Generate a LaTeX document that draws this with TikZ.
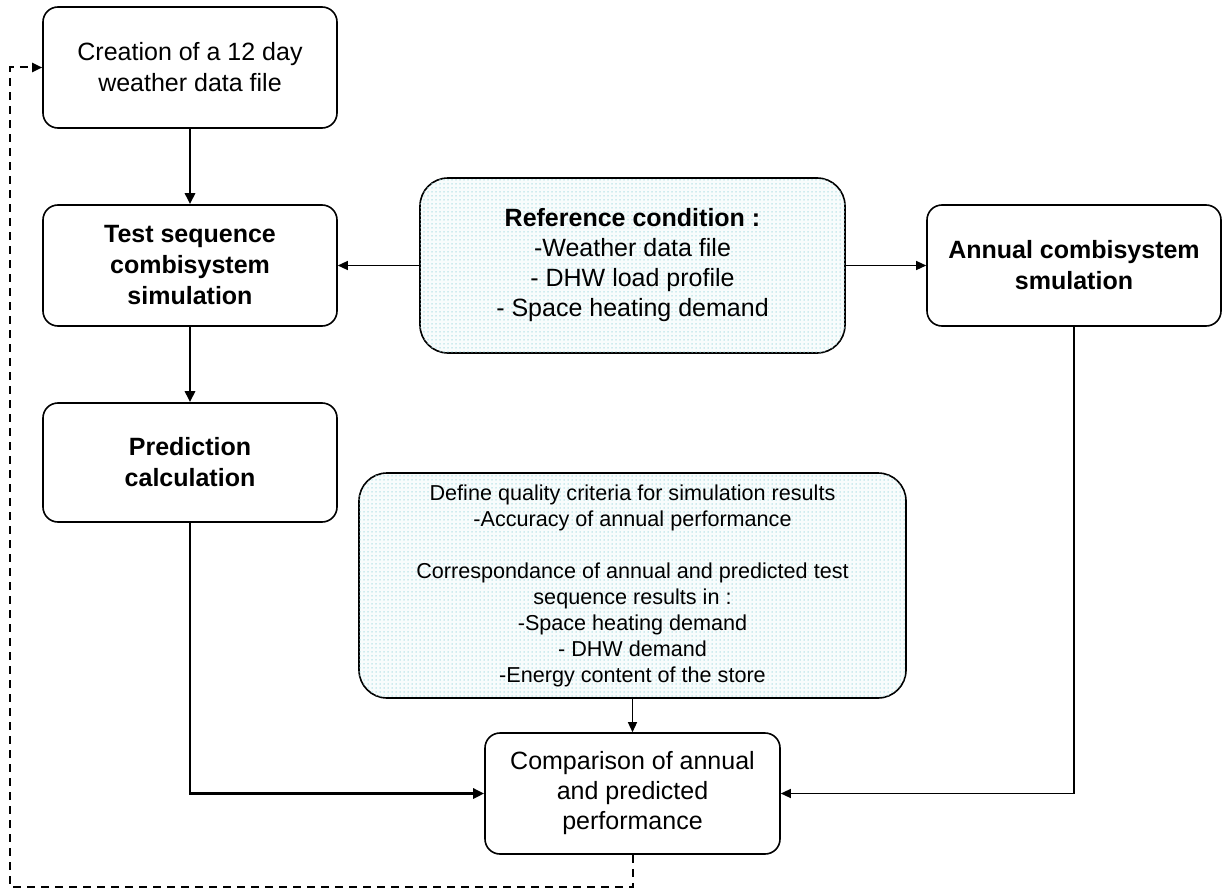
\documentclass[tikz,border=0pt]{standalone}
\usepackage{fontspec}
\setmainfont{Liberation Sans}
\usetikzlibrary{arrows.meta,patterns.meta}
\definecolor{dotcol}{RGB}{165,218,224}
\definecolor{bgcol}{RGB}{248,252,252}
\tikzdeclarepattern{
  name=cyandots,
  type=uncolored,
  bottom left={(-1pt,-1pt)},
  top right={(3pt,3pt)},
  tile size={(4pt,4pt)},
  code={\fill (0pt,0pt) circle (0.75pt);}
}
\tikzset{
  box/.style={draw, line width=1.6pt, rounded corners=15pt, align=center, inner sep=0pt,
    font=\fontsize{25}{31}\selectfont},
  shaded/.style={box, rounded corners=28pt, fill=bgcol,
    postaction={pattern=cyandots, pattern color=dotcol}},
  thickarrow/.style={line width=2.6pt, -{Triangle[length=11pt,width=10pt]}},
  thinarrow/.style={line width=1.3pt, -{Triangle[length=10pt,width=9pt]}},
  dashedarrow/.style={line width=2pt, dash pattern=on 8pt off 6pt, -{Triangle[length=10pt,width=9pt]}}
}
\begin{document}
\begin{tikzpicture}[x=1pt,y=-1pt]
\useasboundingbox (0,0) rectangle (1223,888);

\node[box, minimum width=294pt, minimum height=121pt] (c1) at (190,67.5)
  {\\[-14pt]Creation of a 12 day\\weather data file};
\node[box, minimum width=294pt, minimum height=121pt] (ts) at (190,265.5)
  {\bfseries Test sequence\\\bfseries combisystem\\\bfseries simulation};
\node[box, minimum width=294pt, minimum height=119pt] (pred) at (190,462.5)
  {\bfseries Prediction\\\bfseries calculation};
\node[shaded, minimum width=425pt, minimum height=175pt, font=\fontsize{25}{30}\selectfont] (ref) at (632.5,265.5)
  {\bfseries Reference condition :\\-Weather data file\\- DHW load profile\\- Space heating demand};
\node[box, minimum width=294pt, minimum height=121pt] (ann) at (1074,265.5)
  {\bfseries Annual combisystem\\\bfseries smulation};
\node[shaded, minimum width=547pt, minimum height=225pt, font=\fontsize{21.6}{26}\selectfont] (qual) at (632.5,585.5)
  {Define quality criteria for simulation results\\-Accuracy of annual performance\\[26pt]
   Correspondance of annual and predicted test\\sequence results in :\\-Space heating demand\\- DHW demand\\-Energy content of the store};
\node[box, minimum width=295pt, minimum height=121pt, font=\fontsize{25}{30}\selectfont] (comp) at (632.5,793.5)
  {Comparison of annual\\and predicted\\performance};

\coordinate (lb) at (10,887);

\draw[thickarrow] (c1) -- (ts);
\draw[thickarrow] (ts) -- (pred);
\draw[thinarrow] (ref) -- (ts);
\draw[thinarrow] (ref) -- (ann);
\draw[thinarrow] (qual) -- (comp);
\draw[thickarrow] (pred.south) |- (comp.west);
\draw[thinarrow] (ann.south) |- (comp.east);
\draw[dashedarrow] (comp.south) |- (lb) |- (c1.west);
\end{tikzpicture}
\end{document}
